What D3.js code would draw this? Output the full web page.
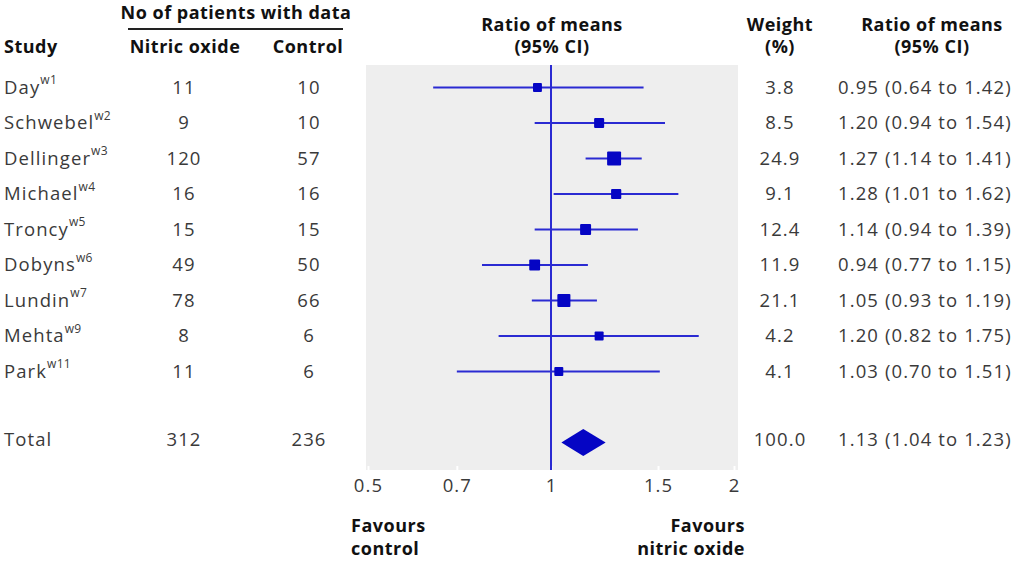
<!DOCTYPE html>
<html>
<head>
<meta charset="utf-8">
<script src="https://cdn.jsdelivr.net/npm/d3@7"></script>
<style>
    body { margin: 0; background: #fff; }
    svg { display: block; font-family: "Open Sans", sans-serif; }
</style>
</head>
<body>
<div id="chart"></div>
<script>
// study rows
const studies = ["Day", "Schwebel", "Dellinger", "Michael", "Troncy", "Dobyns", "Lundin", "Mehta", "Park"];
const refs = ["w1", "w2", "w3", "w4", "w5", "w6", "w7", "w9", "w11"];
const nitricN = [11, 9, 120, 16, 15, 49, 78, 8, 11];
const controlN = [10, 10, 57, 16, 15, 50, 66, 6, 6];
const ratios = [0.95, 1.20, 1.27, 1.28, 1.14, 0.94, 1.05, 1.20, 1.03];
const lowers = [0.64, 0.94, 1.14, 1.01, 0.94, 0.77, 0.93, 0.82, 0.70];
const uppers = [1.42, 1.54, 1.41, 1.62, 1.39, 1.15, 1.19, 1.75, 1.51];
const weights = [3.8, 8.5, 24.9, 9.1, 12.4, 11.9, 21.1, 4.2, 4.1];

// pooled result
const totalLabel = "Total";
const totalNitric = 312;
const totalControl = 236;
const totalWeight = 100.0;
const totalRatio = 1.13;
const totalLower = 1.04;
const totalUpper = 1.23;

const tickValues = [0.5, 0.7, 1, 1.5, 2];

const width = 1024;
const height = 561;
const lineColor = "#2a2ad2";
const markColor = "#0505c4";
const textColor = "#3a3a3a";
const bodySize = 18.5;
const bodySpacing = 1.1;
const headSize = 18;

const svg = d3.select("#chart")
    .append("svg")
    .attr("width", width)
    .attr("height", height)
    .attr("viewBox", [0, 0, width, height]);

const x = d3.scaleLog().domain([0.5, 2]).range([368, 734]);
const y = d3.scaleLinear().domain([0, 8]).range([87.5, 371.5]);
const totalY = y(10);
const boxSize = d3.scaleLinear().domain([0, 25]).range([8, 14]);

const fmt2 = d3.format(".2f");
const fmt1 = d3.format(".1f");

//plot background
svg.append("rect")
    .attr("x", x.range()[0] - 2)
    .attr("y", 65)
    .attr("width", x.range()[1] - x.range()[0] + 6)
    .attr("height", 405)
    .attr("fill", "#eeeeee");

//axis with small white ticks poking into the panel
const axis = svg.append("g")
    .attr("transform", "translate(0, 470)")
    .call(d3.axisBottom(x).tickValues(tickValues).tickFormat(d => String(d)).tickSizeInner(-4).tickSizeOuter(0).tickPadding(9));
axis.select(".domain").remove();
axis.selectAll(".tick line").attr("stroke", "#ffffff").attr("stroke-width", 2);
axis.selectAll(".tick text")
    .attr("fill", textColor)
    .attr("font-size", bodySize)
    .attr("letter-spacing", bodySpacing)
    .attr("font-family", "Open Sans, sans-serif");

//line of no effect
svg.append("line")
    .attr("x1", x(1)).attr("x2", x(1))
    .attr("y1", 65).attr("y2", 470)
    .attr("stroke", lineColor)
    .attr("stroke-width", 2);

//confidence intervals and boxes
const rows = studies.map((s, i) => ({ i: i, ratio: ratios[i], lower: lowers[i], upper: uppers[i], weight: weights[i] }));

svg.selectAll(".ci")
    .data(rows)
    .join("line")
    .attr("class", "ci")
    .attr("x1", d => x(d.lower))
    .attr("x2", d => x(d.upper))
    .attr("y1", d => y(d.i))
    .attr("y2", d => y(d.i))
    .attr("stroke", lineColor)
    .attr("stroke-width", 2);

svg.selectAll(".box")
    .data(rows)
    .join("rect")
    .attr("class", "box")
    .attr("x", d => x(d.ratio) - boxSize(d.weight) / 2)
    .attr("y", d => y(d.i) - boxSize(d.weight) / 2)
    .attr("width", d => boxSize(d.weight))
    .attr("height", d => boxSize(d.weight))
    .attr("rx", 1)
    .attr("fill", markColor);

//pooled diamond
svg.append("path")
    .attr("d", `M${x(totalLower)},${totalY} L${x(totalRatio)},${totalY - 13.5} L${x(totalUpper)},${totalY} L${x(totalRatio)},${totalY + 13.5} Z`)
    .attr("fill", markColor);

//============================ TEXT ============================//
function header(txt, xx, yy, anchor) {
    svg.append("text")
        .attr("x", xx)
        .attr("y", yy)
        .attr("dy", "0.35em")
        .attr("text-anchor", anchor || "middle")
        .attr("font-size", headSize)
        .attr("font-weight", "bold")
        .attr("letter-spacing", 0.5)
        .attr("fill", "#111")
        .text(txt);
}

header("No of patients with data", 236, 13);
svg.append("line")
    .attr("x1", 128).attr("x2", 343)
    .attr("y1", 29).attr("y2", 29)
    .attr("stroke", "#222")
    .attr("stroke-width", 2);
header("Study", 4, 47, "start");
header("Nitric oxide", 185, 47);
header("Control", 308, 47);
header("Ratio of means", 552, 25);
header("(95% CI)", 552, 47);
header("Weight", 780, 25);
header("(%)", 780, 47);
header("Ratio of means", 932, 25);
header("(95% CI)", 932, 47);

function bodyText(txt, xx, yy, anchor) {
    return svg.append("text")
        .attr("x", xx)
        .attr("y", yy)
        .attr("dy", "0.35em")
        .attr("text-anchor", anchor || "middle")
        .attr("font-size", bodySize)
        .attr("letter-spacing", bodySpacing)
        .attr("fill", textColor)
        .text(txt);
}

rows.forEach(d => {
    const yy = y(d.i);
    const name = bodyText(studies[d.i], 4, yy, "start");
    name.append("tspan")
        .attr("font-size", 12)
        .attr("letter-spacing", 0.3)
        .attr("dy", "-0.8em")
        .text(refs[d.i]);
    bodyText(nitricN[d.i], 184, yy);
    bodyText(controlN[d.i], 309, yy);
    bodyText(fmt1(d.weight), 780, yy);
    bodyText(`${fmt2(d.ratio)} (${fmt2(d.lower)} to ${fmt2(d.upper)})`, 838, yy, "start");
});

bodyText(totalLabel, 4, totalY - 3, "start");
bodyText(totalNitric, 184, totalY - 3);
bodyText(totalControl, 309, totalY - 3);
bodyText(fmt1(totalWeight), 780, totalY - 3);
bodyText(`${fmt2(totalRatio)} (${fmt2(totalLower)} to ${fmt2(totalUpper)})`, 838, totalY - 3, "start");

//favours labels
header("Favours", 351, 526, "start");
header("control", 351, 549, "start");
header("Favours", 745, 526, "end");
header("nitric oxide", 745, 549, "end");
</script>
</body>
</html>
